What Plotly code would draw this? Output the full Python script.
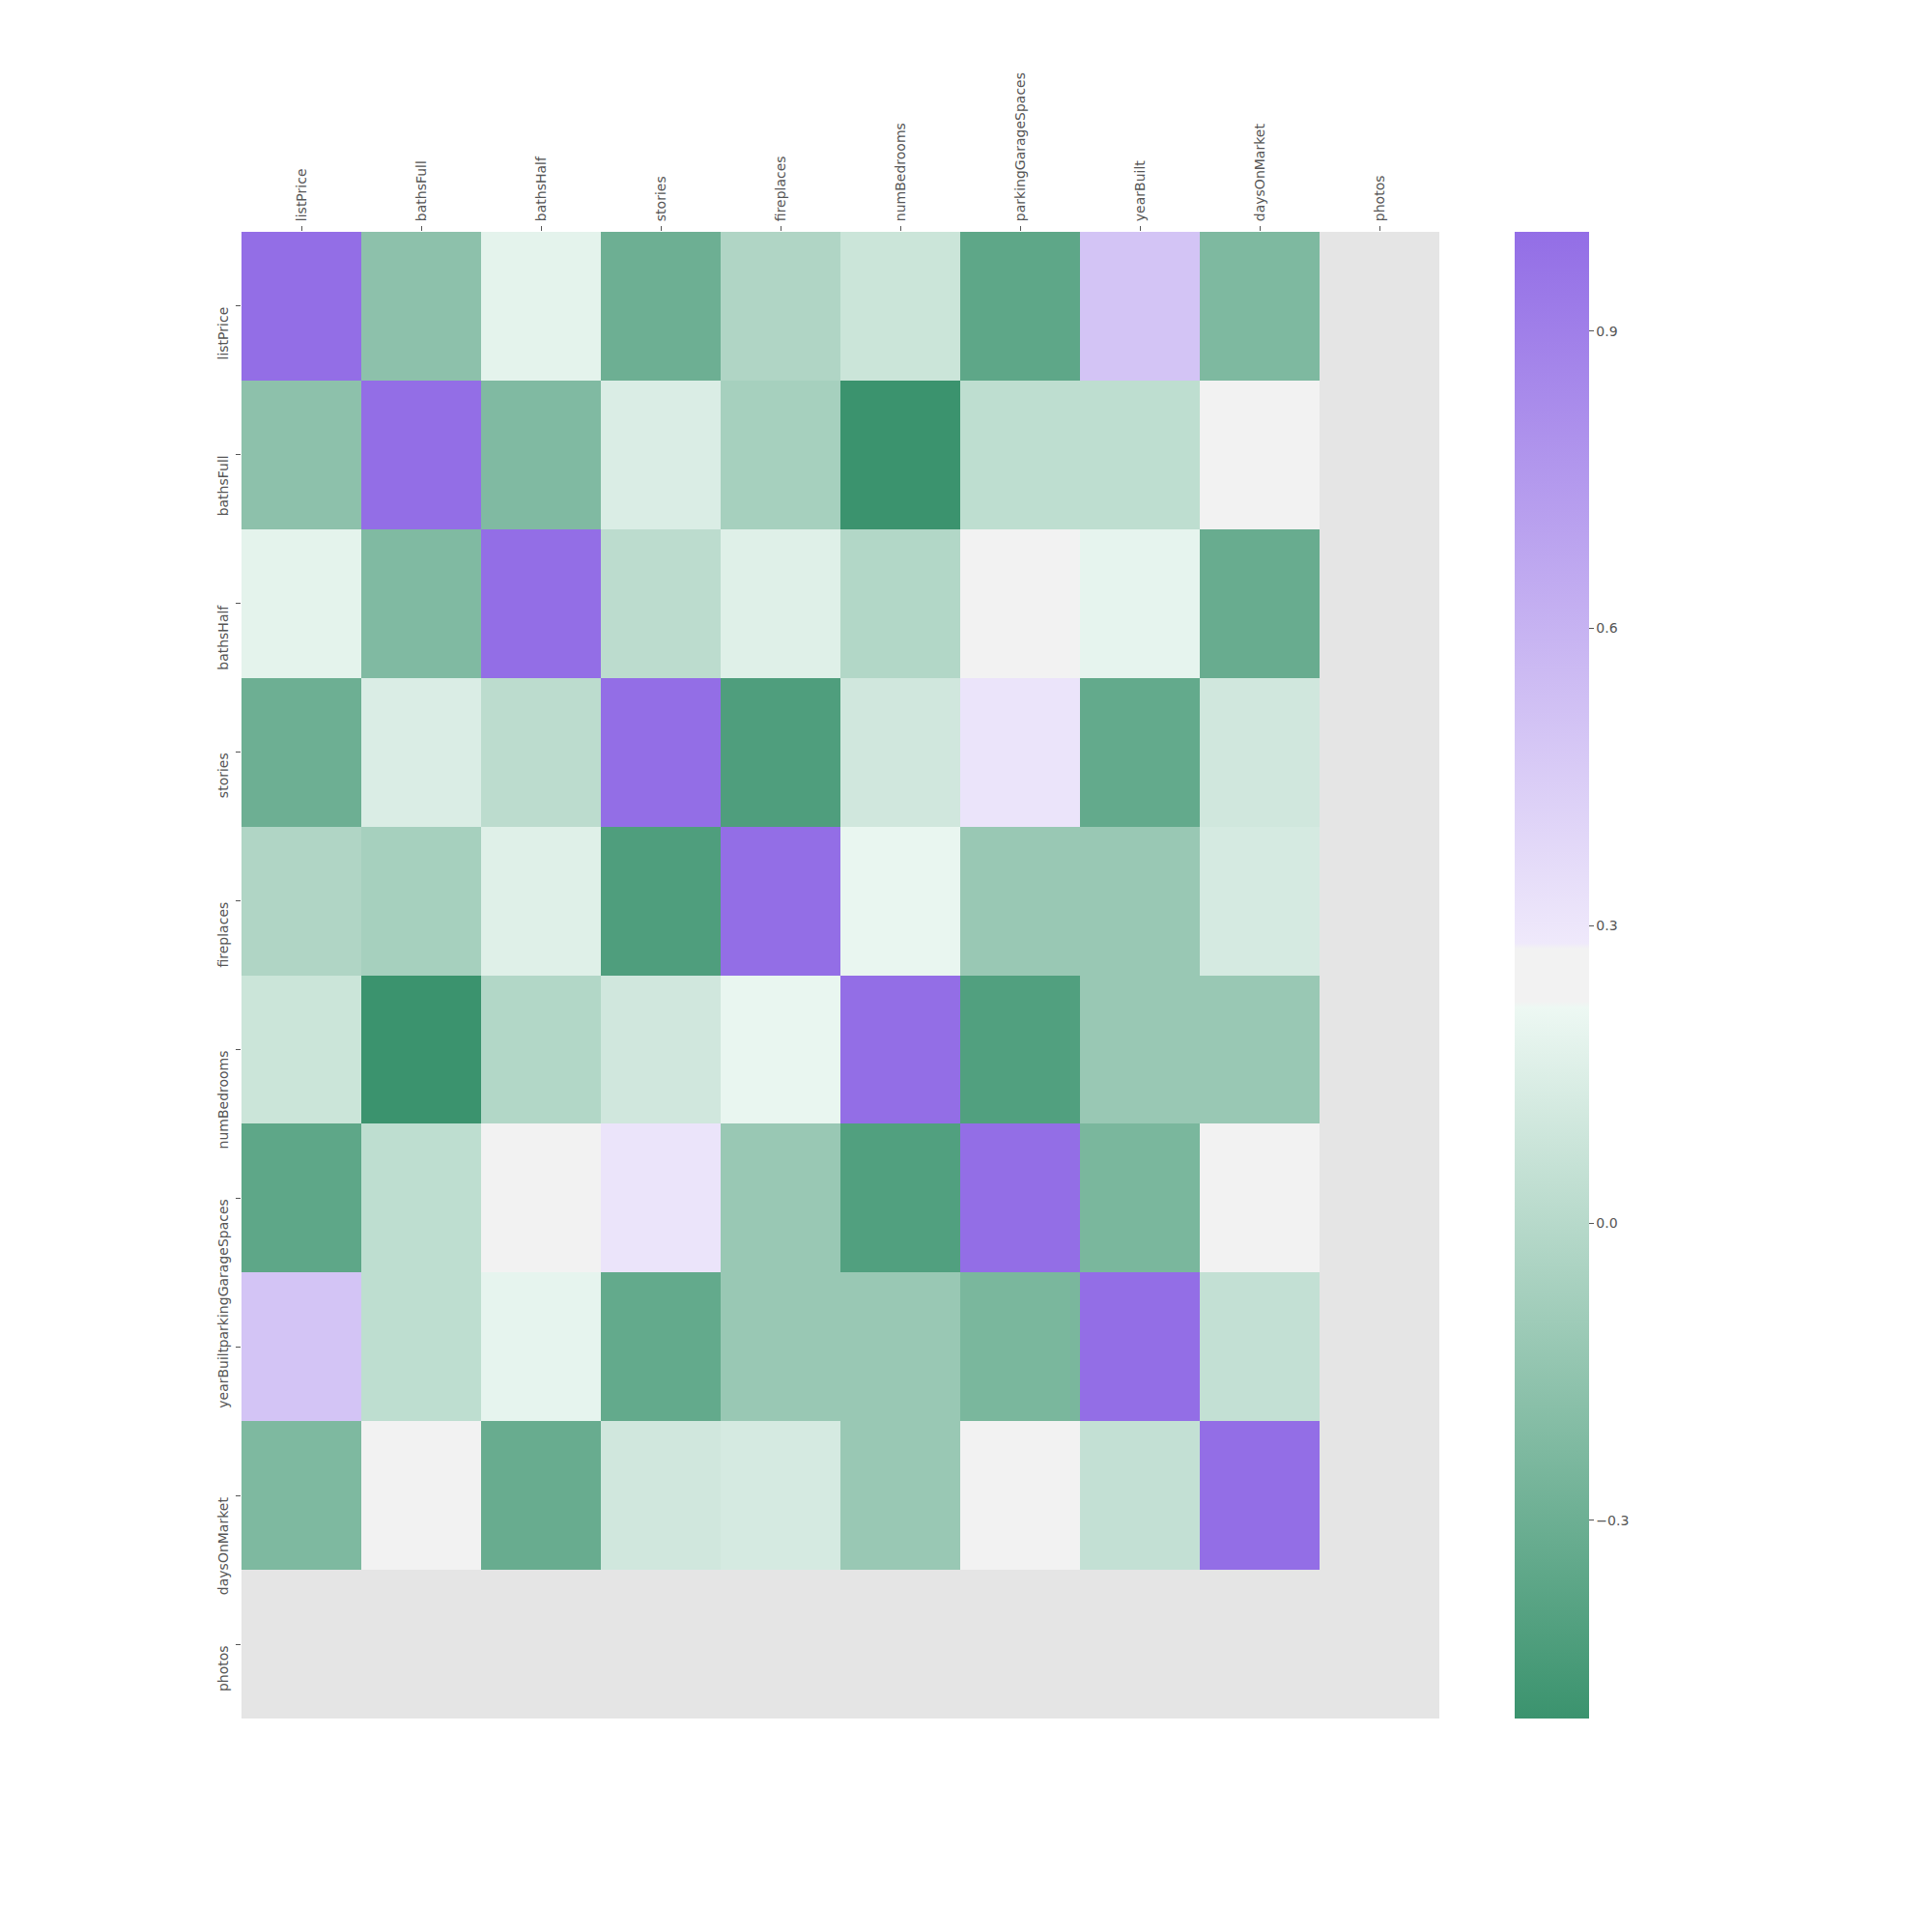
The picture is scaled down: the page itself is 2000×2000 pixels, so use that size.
import math
import colorsys
import plotly.graph_objects as go

labels = ["listPrice", "bathsFull", "bathsHalf", "stories", "fireplaces",
          "numBedrooms", "parkingGarageSpaces", "yearBuilt", "daysOnMarket", "photos"]

# correlation matrix (photos has no variance -> NaN)
N = None
corr = [
    [1.00, -0.17, 0.18, -0.30, -0.03, 0.08, -0.36, 0.50, -0.23, N],
    [-0.17, 1.00, -0.22, 0.14, -0.07, -0.50, 0.03, 0.03, 0.25, N],
    [0.18, -0.22, 1.00, 0.02, 0.16, -0.02, 0.25, 0.19, -0.32, N],
    [-0.30, 0.14, 0.02, 1.00, -0.42, 0.10, 0.31, -0.34, 0.10, N],
    [-0.03, -0.07, 0.16, -0.42, 1.00, 0.20, -0.12, -0.12, 0.12, N],
    [0.08, -0.50, -0.02, 0.10, 0.20, 1.00, -0.41, -0.12, -0.12, N],
    [-0.36, 0.03, 0.25, 0.31, -0.12, -0.41, 1.00, -0.245, 0.25, N],
    [0.50, 0.03, 0.19, -0.34, -0.12, -0.12, -0.245, 1.00, 0.05, N],
    [-0.23, 0.25, -0.32, 0.10, 0.12, -0.12, 0.25, 0.05, 1.00, N],
    [N, N, N, N, N, N, N, N, N, N],
]

cbar_ticks = [-0.3, 0.0, 0.3, 0.6, 0.9]

# ---- husl (seaborn) for the diverging palette ----
M = [[3.2406, -1.5372, -0.4986],
     [-0.9689, 1.8758, 0.0415],
     [0.0557, -0.2040, 1.0570]]
REF_U, REF_V, KAPPA, EPS = 0.19784, 0.46834, 903.3, 0.008856


def max_chroma(L, H):
    hr = math.radians(H)
    sinH, cosH = math.sin(hr), math.cos(hr)
    sub1 = (L + 16) ** 3 / 1560896.0
    sub2 = sub1 if sub1 > EPS else L / KAPPA
    res = float("inf")
    for m1, m2, m3 in M:
        top = (0.99915 * m1 + 1.05122 * m2 + 1.14460 * m3) * sub2
        rb = 0.86330 * m3 - 0.17266 * m2
        lb = 0.12949 * m3 - 0.38848 * m1
        bottom = (rb * sinH + lb * cosH) * sub2
        for t in (0.0, 1.0):
            C = L * (top - 1.05122 * t) / (bottom + 0.17266 * sinH * t)
            if 0 < C < res:
                res = C
    return res


def husl_to_rgb(h, s, l):
    L = l
    C = max_chroma(l, h) / 100 * s
    hr = math.radians(h)
    U, V = math.cos(hr) * C, math.sin(hr) * C
    varY = ((L + 16) / 116) ** 3 if L > 8 else L / KAPPA
    varU = U / (13 * L) + REF_U
    varV = V / (13 * L) + REF_V
    Y = varY
    X = -(9 * Y * varU) / ((varU - 4) * varV - varU * varV)
    Z = (9 * Y - 15 * varV * Y - varV * X) / (3 * varV)
    out = []
    for r in M:
        c = r[0] * X + r[1] * Y + r[2] * Z
        c = 12.92 * c if c <= 0.0031308 else 1.055 * c ** (1 / 2.4) - 0.055
        out.append(min(max(c, 0), 1))
    return out


def lighten(c):
    h, l, s = colorsys.rgb_to_hls(*c)
    return colorsys.hls_to_rgb(h, 0.95, s)


def css(c):
    return "rgb(%d,%d,%d)" % tuple(round(v * 255) for v in c)


h_neg, h_pos, s, l, sep = 150, 275, 80, 55, 10
n_half = 128 - sep // 2
tot = 2 * n_half + sep - 1
g_dark = husl_to_rgb(h_neg, s, l)
g_light = lighten(g_dark)
p_dark = husl_to_rgb(h_pos, s, l)
p_light = lighten(p_dark)
mid = (0.95, 0.95, 0.95)
colorscale = [
    [0.0, css(g_dark)],
    [(n_half - 1) / tot, css(g_light)],
    [n_half / tot, css(mid)],
    [(n_half + sep - 1) / tot, css(mid)],
    [(n_half + sep) / tot, css(p_light)],
    [1.0, css(p_dark)],
]

font = dict(family="DejaVu Sans", size=14, color="#555555")

fig = go.Figure(go.Heatmap(
    z=corr, x=labels, y=labels,
    colorscale=colorscale,
    hoverongaps=False,
    colorbar=dict(
        x=(1568 - 250) / 1240, xanchor="left", xpad=0,
        y=0.5, yanchor="middle", ypad=0, len=1, lenmode="fraction",
        thickness=77, outlinewidth=0,
        tickmode="array", tickvals=cbar_ticks, tickformat=".1f",
        ticks="outside", ticklen=5, tickcolor="#555555", tickwidth=1,
        tickfont=font,
    ),
))

# y tick labels: rotated, their top end sits at the tick (as in the reference)
for lab in labels:
    fig.add_annotation(
        xref="paper", x=0, yref="y", y=lab, text=lab, showarrow=False,
        textangle=-90, xanchor="right", yanchor="top", xshift=-10,
        borderpad=0, font=font,
    )

# page body has an 8px margin, so offset the plot margins
fig.update_layout(
    width=2000, height=2000,
    margin=dict(l=242, r=518, t=232, b=229, pad=0),
    paper_bgcolor="white", plot_bgcolor="#E5E5E5",
    font=font,
    showlegend=False,
)
fig.update_xaxes(side="top", tickangle=-90, ticks="outside", ticklen=5,
                 tickcolor="#555555", showgrid=False, zeroline=False,
                 showline=False, tickfont=font, ticklabelstandoff=2)
fig.update_yaxes(autorange="reversed", ticks="outside", ticklen=5,
                 tickcolor="#555555", showgrid=False, zeroline=False,
                 showline=False, showticklabels=False)

fig.write_html("out.html")
